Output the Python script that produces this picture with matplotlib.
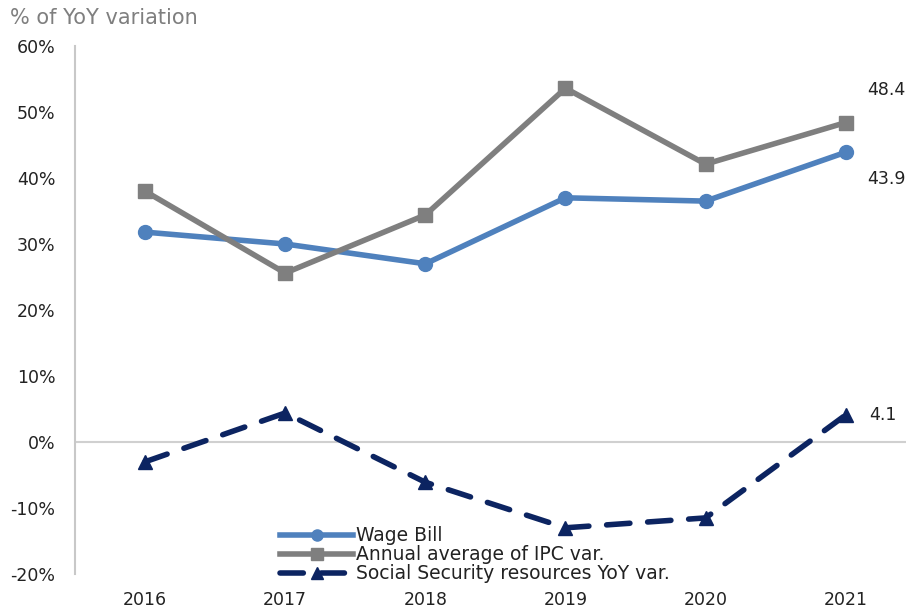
import matplotlib
matplotlib.use("Agg")
import matplotlib.pyplot as plt
from matplotlib.ticker import FuncFormatter

plt.rcParams['font.family'] = ['DejaVu Sans']

# data
years = ['2016', '2017', '2018', '2019', '2020', '2021']
wage_bill = [31.8, 30.0, 27.0, 37.0, 36.5, 43.9]
ipc_avg = [38.0, 25.6, 34.4, 53.6, 42.1, 48.4]
social_sec = [-3.0, 4.4, -6.1, -13.0, -11.5, 4.1]

blue = '#4f81bd'
grey = '#7f7f7f'
navy = '#0c2461'

fig = plt.figure(figsize=(9.06, 6.08), dpi=100)
ax = fig.add_axes([75 / 906, 1 - 574 / 608, 1 - 75 / 906, 528 / 608])

x = range(len(years))
ax.axhline(0, color='#d0d0d0', lw=1.5, zorder=1)
ax.plot(x, wage_bill, color=blue, lw=4, marker='o', ms=10, label='Wage Bill', zorder=3)
ax.plot(x, ipc_avg, color=grey, lw=4, marker='s', ms=10, label='Annual average of IPC var.', zorder=3)
ax.plot(x, social_sec, color=navy, lw=4, marker='^', ms=10, dashes=(4.2, 3.2),
        dash_capstyle='round', label='Social Security resources YoY var.', zorder=3)

ax.set_xlim(-0.5, 5.43)
ax.set_ylim(-20, 60)
ax.set_xticks(list(x))
ax.set_xticklabels(years)
ax.set_yticks(range(-20, 61, 10))
ax.yaxis.set_major_formatter(FuncFormatter(lambda v, p: f'{v:.0f}%'))
ax.tick_params(axis='both', length=0, labelsize=12.5, colors='#222222')
ax.tick_params(axis='y', pad=14)
ax.tick_params(axis='x', pad=12)
for s in ['top', 'right', 'bottom']:
    ax.spines[s].set_visible(False)
ax.spines['left'].set_color('#c8c8c8')
ax.spines['left'].set_linewidth(1.5)

ax.text(5.15, ipc_avg[-1] + 5, f'{ipc_avg[-1]:.1f}', fontsize=12.5, color='#222222', va='center')
ax.text(5.15, wage_bill[-1] - 4, f'{wage_bill[-1]:.1f}', fontsize=12.5, color='#222222', va='center')
ax.text(5.17, social_sec[-1], f'{social_sec[-1]:.1f}', fontsize=12.5, color='#222222', va='center')

fig.text(10 / 906, 1 - 18 / 608, '% of YoY variation', fontsize=15, color='#7f7f7f', va='center')

leg = ax.legend(loc='lower left', bbox_to_anchor=(0.236, -0.035), frameon=False, fontsize=13.5,
                handlelength=3.85, labelspacing=0.0, handletextpad=0.2, borderpad=0,
                markerscale=0.8)
for t in leg.get_texts():
    t.set_color('#222222')

fig.savefig('out.png', dpi=100)
